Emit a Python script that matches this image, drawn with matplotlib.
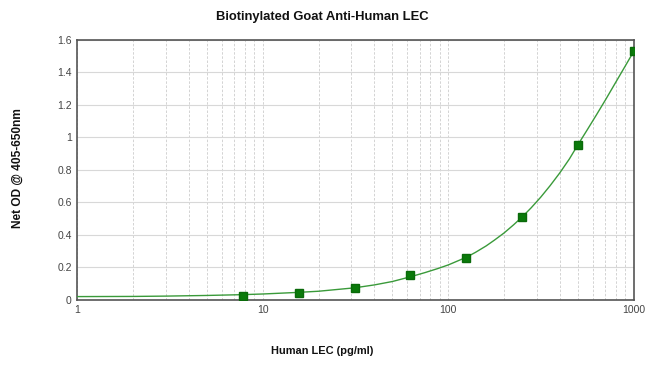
import numpy as np
import matplotlib
matplotlib.use('Agg')
import matplotlib.pyplot as plt
from matplotlib.ticker import FixedLocator, LogLocator, NullFormatter

plt.rcParams['font.family'] = ['Liberation Sans', 'DejaVu Sans']

# Standard points (pg/ml) and measured OD
conc = [7.8, 15.6, 31.25, 62.5, 125, 250, 500, 1000]
od = [0.022, 0.045, 0.075, 0.155, 0.26, 0.51, 0.955, 1.53]

# Fitted curve
curve_x = [1, 2, 3, 5, 7.8, 10, 15.6, 20, 31.25, 40, 50, 62.5, 75, 88, 100,
           110, 125, 140, 160, 177, 200, 225, 250, 280, 315, 354, 400, 450,
           500, 560, 630, 707, 800, 900, 1000]
curve_y = [0.020, 0.021, 0.023, 0.027, 0.032, 0.036, 0.046, 0.053, 0.074, 0.092,
           0.113, 0.142, 0.168, 0.193, 0.215, 0.235, 0.262, 0.292, 0.332, 0.367,
           0.412, 0.462, 0.510, 0.567, 0.632, 0.703, 0.783, 0.868, 0.955, 1.045,
           1.140, 1.235, 1.340, 1.440, 1.530]

fig = plt.figure(figsize=(6.5, 3.67), dpi=100)
ax = fig.add_axes([0.119, 0.183, 0.856, 0.708])

ax.plot(curve_x, curve_y, color='#3a9a3a', linewidth=1.0, zorder=3)
ax.plot(conc, od, linestyle='none', marker='s', markersize=5.5,
        color='#0a7a0a', markeredgecolor='#0a6a0a', zorder=4)

ax.set_xscale('log')
ax.set_xlim(1, 1000)
ax.set_ylim(0, 1.6)
ax.set_yticks([0, 0.2, 0.4, 0.6, 0.8, 1.0, 1.2, 1.4, 1.6])
ax.set_yticklabels(['0', '0.2', '0.4', '0.6', '0.8', '1', '1.2', '1.4', '1.6'])
ax.xaxis.set_major_locator(FixedLocator([1, 10, 100, 1000]))
ax.set_xticklabels(['1', '10', '100', '1000'])
ax.xaxis.set_minor_locator(LogLocator(base=10, subs=np.arange(2, 10)))
ax.xaxis.set_minor_formatter(NullFormatter())

ax.grid(axis='y', color='#d8d8d8', linewidth=0.8, linestyle='-')
ax.grid(axis='x', which='both', color='#cccccc', linewidth=0.6, linestyle=(0, (3, 2)))
ax.set_axisbelow(True)

ax.tick_params(axis='both', which='both', length=0, labelsize=7.5, colors='#444444', pad=4)
for s in ax.spines.values():
    s.set_color('#555555')
    s.set_linewidth(1.2)

# Labels are centred on the figure, not on the axes
fig.text(322 / 650, 1 - 17 / 367, 'Biotinylated Goat Anti-Human LEC',
         fontsize=9.4, fontweight='bold', ha='center', va='center', color='#111111')
fig.text(322 / 650, 1 - 351 / 367, 'Human LEC (pg/ml)',
         fontsize=7.9, fontweight='bold', ha='center', va='center', color='#111111')
fig.text(18 / 650, 1 - 168 / 367, 'Net OD @ 405-650nm', rotation=90,
         fontsize=8.6, fontweight='bold', ha='center', va='center', color='#111111')

fig.savefig('out.png', dpi=100)
